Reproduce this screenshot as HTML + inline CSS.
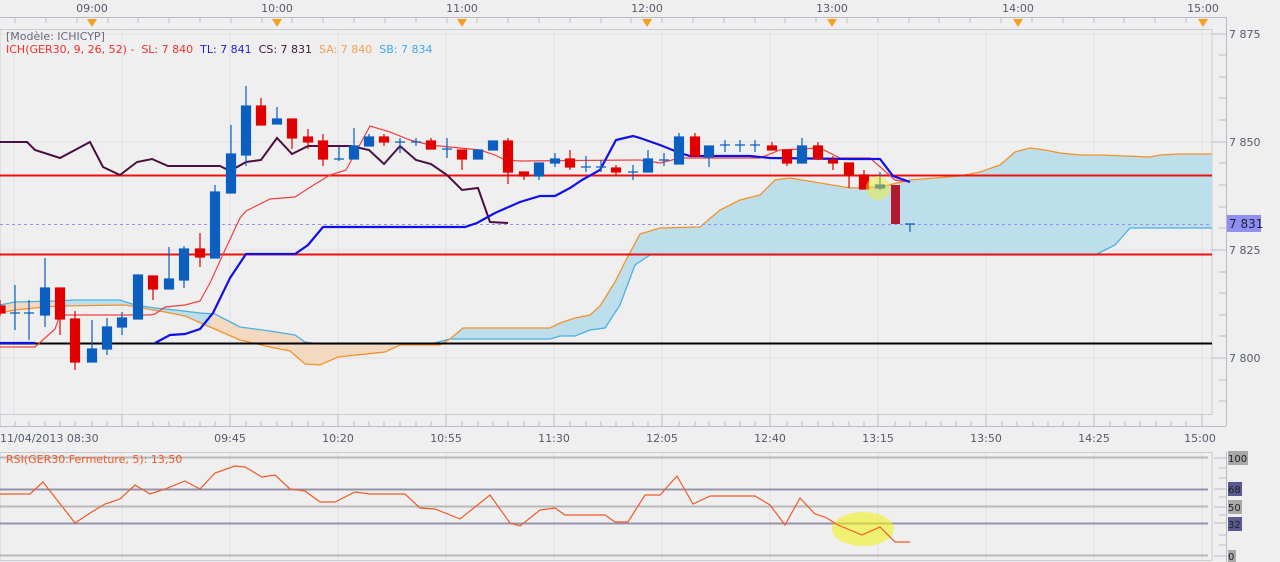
<!DOCTYPE html>
<html><head><meta charset="utf-8"><style>
html,body{margin:0;padding:0;background:#f0f0f0;}
svg{display:block;font-family:"DejaVu Sans","Liberation Sans",sans-serif;}
</style></head><body>
<svg width="1280" height="562" viewBox="0 0 1280 562" xmlns="http://www.w3.org/2000/svg">
<rect width="1280" height="562" fill="#efefef"/>
<g font-size="11" fill="#555a70" text-anchor="middle">
<text x="92" y="12">09:00</text><text x="277" y="12">10:00</text><text x="462" y="12">11:00</text>
<text x="647" y="12">12:00</text><text x="832" y="12">13:00</text><text x="1018" y="12">14:00</text><text x="1203" y="12">15:00</text>
</g>
<path d="M0 17.5H1226.5V30" fill="none" stroke="#b8bcc8"/>
<g stroke="#b8bcc8">
<path d="M15 18v5M46 18v5M77 18v5M108 18v5M138 18v5M169 18v5M200 18v5M231 18v5M262 18v5M292 18v5M323 18v5M354 18v5M385 18v5M416 18v5M447 18v5M477 18v5M508 18v5M539 18v5M570 18v5M601 18v5M631 18v5M662 18v5M693 18v5M724 18v5M755 18v5M785 18v5M816 18v5M847 18v5M878 18v5M909 18v5M939 18v5M970 18v5M1001 18v5M1032 18v5M1063 18v5M1094 18v5M1124 18v5M1155 18v5M1186 18v5"/>
</g>
<g fill="#f5a020">
<path d="M87 19h10l-5 8z"/><path d="M272 19h10l-5 8z"/><path d="M457 19h10l-5 8z"/><path d="M642 19h10l-5 8z"/><path d="M827 19h10l-5 8z"/><path d="M1013 19h10l-5 8z"/><path d="M1198 19h10l-5 8z"/>
</g>
<rect x="0" y="29.5" width="1212" height="385" fill="#efefef" stroke="#c8ccd6"/>
<path d="M1226.5 30V426" stroke="#b8bcc8"/>
<g stroke="#e0e0e4">
<path d="M14 30V414M122 30V414M230 30V414M338 30V414M446 30V414M554 30V414M662 30V414M770 30V414M878 30V414M986 30V414M1094 30V414M1202 30V414"/>
<path d="M0 34H1212M0 142H1212M0 250H1212M0 358H1212"/>
</g>
<g stroke="#b8bcc8"><path d="M1212 34h14M1212 142h14M1212 250h14M1212 358h14M1219 55h7M1219 77h7M1219 98h7M1219 120h7M1219 163h7M1219 185h7M1219 207h7M1219 228h7M1219 272h7M1219 293h7M1219 315h7M1219 336h7M1219 380h7M1219 401h7"/></g>
<g font-size="11" fill="#555a70">
<text x="1229" y="38">7 875</text><text x="1229" y="146">7 850</text><text x="1229" y="254">7 825</text><text x="1229" y="362">7 800</text>
</g>
<defs>
<clipPath id="org"><rect x="0" y="0" width="60" height="420"/><rect x="210" y="0" width="232" height="420"/></clipPath>
</defs>
<path d="M0 313L15 310L45 307L60 306L125 305L165 312L185 316L210 327L240 340L270 347L290 351L305 364L320 365L338 357L385 352L400 345L440 345L450 339L463 328L550 328L560 323L575 318L590 315L600 306L615 282L625 262L640 234L660 228L700 227L720 210L740 200L760 195L775 180L790 178L850 188L880 187L910 180L960 176L980 172L1000 165L1015 152L1030 148L1045 150L1060 153L1080 155L1100 155L1150 157L1160 155L1180 154L1212 154L1212 228L1130 228L1115 245L1095 255L650 255L635 265L620 305L605 328L590 330L575 336L560 336L550 339L450 339L430 344L320 344L305 342L295 335L270 331L240 327L215 314L200 313L175 310L155 308L135 305L120 300L75 300L55 301L15 302L0 305Z" fill="#bddfec"/>
<path clip-path="url(#org)" d="M0 313L15 310L45 307L60 306L125 305L165 312L185 316L210 327L240 340L270 347L290 351L305 364L320 365L338 357L385 352L400 345L440 345L450 339L463 328L550 328L450 339L430 344L320 344L305 342L295 335L270 331L240 327L215 314L200 313L175 310L155 308L135 305L120 300L75 300L55 301L15 302L0 305Z" fill="#f3d9c0"/>
<polyline fill="none" stroke="#4ab0e0" stroke-width="1.3" points="0,305 15,302 55,301 75,300 120,300 135,305 155,308 175,310 200,313 215,314 240,327 270,331 295,335 305,342 320,344 430,344 450,339 550,339 560,336 575,336 590,330 605,328 620,305 635,265 650,255 1095,255 1115,245 1130,228 1212,228"/>
<polyline fill="none" stroke="#f5912a" stroke-width="1.3" points="0,313 15,310 45,307 60,306 125,305 165,312 185,316 210,327 240,340 270,347 290,351 305,364 320,365 338,357 385,352 400,345 440,345 450,339 463,328 550,328 560,323 575,318 590,315 600,306 615,282 625,262 640,234 660,228 700,227 720,210 740,200 760,195 775,180 790,178 850,188 880,187 910,180 960,176 980,172 1000,165 1015,152 1030,148 1045,150 1060,153 1080,155 1100,155 1150,157 1160,155 1180,154 1212,154"/>
<path d="M0 175.5H1212" stroke="#ee1010" stroke-width="2"/>
<path d="M0 254.5H1212" stroke="#ee1010" stroke-width="2"/>
<path d="M0 343.5H1212" stroke="#000" stroke-width="2"/>
<path d="M0 224.5H1212" stroke="#9090ff" stroke-dasharray="3,3"/>
<rect x="1227" y="215" width="34" height="17" fill="#8f8ff0"/>
<text x="1229" y="228" font-size="12" fill="#202040">7 831</text>
<polyline fill="none" stroke="#4a1040" stroke-width="2" points="0,142 27,142 35,150 60,158 90,142 103,167 120,175 137,162 152,159 168,166 220,166 230,171 246,162 261,160 277,138 292,154 308,146 351,146 369,150 384,164 400,146 416,160 431,164 447,175 462,190 478,188 490,222 508,223"/>
<polyline fill="none" stroke="#f04040" stroke-width="1.2" points="0,347 35,347 55,329 60,315 150,315 155,314 165,307 185,305 200,301 210,283 225,250 240,218 246,211 270,199 295,197 312,186 330,175 346,170 370,126 390,132 410,140 430,145 480,150 495,155 505,160 520,161 640,160 660,163 680,158 760,158 780,150 820,148 840,158 870,158 895,180 910,182"/>
<polyline fill="none" stroke="#1010e8" stroke-width="2.2" points="0,343 35,343"/>
<polyline fill="none" stroke="#1010e8" stroke-width="2.2" points="155,343 170,335 185,334 200,329 213,313 230,278 246,254 295,254 308,245 323,227 465,227 477,223 495,213 520,202 540,196 555,196 570,188 582,180 600,170 616,140 633,136 640,138 660,145 680,153 690,156 750,156 770,158 850,159 880,159 893,176 910,182"/>
<g stroke-width="1.2">
<g stroke="#e00000" fill="#e00000">
<path d="M0 300v16"/><rect x="-4" y="306" width="9" height="7"/>
<path d="M60 288v47M75 311v59M153 276v24M200 233v34M261 98v27M292 119v30M308 129v20M323 134v32M384 134v12M431 138v11M462 150v20M508 138v46M524 172v8M570 150v20M616 165v10M695 133v23M772 142v8M787 150v16M818 142v18M833 156v14M849 163v25M864 170v19"/>
<rect x="55.5" y="288" width="9" height="31"/><rect x="70.5" y="319" width="9" height="43"/><rect x="148.5" y="276" width="9" height="13"/><rect x="195.5" y="249" width="9" height="8"/><rect x="256.5" y="106" width="9" height="19"/><rect x="287.5" y="119" width="9" height="19"/><rect x="303.5" y="137" width="9" height="5"/><rect x="318.5" y="141" width="9" height="18"/><rect x="379.5" y="137" width="9" height="5"/><rect x="426.5" y="141" width="9" height="8"/><rect x="457.5" y="150" width="9" height="9"/><rect x="503.5" y="141" width="9" height="31"/><rect x="519.5" y="172" width="9" height="4"/><rect x="565.5" y="159" width="9" height="8"/><rect x="611.5" y="168" width="9" height="4"/><rect x="690.5" y="137" width="9" height="19"/><rect x="767.5" y="146" width="9" height="4"/><rect x="782.5" y="150" width="9" height="13"/><rect x="813.5" y="146" width="9" height="13"/><rect x="828.5" y="160" width="9" height="3"/><rect x="844.5" y="163" width="9" height="12"/><rect x="859.5" y="175" width="9" height="14"/>
</g>
<g stroke="#0a5fc0" fill="#0a5fc0">
<path d="M15 285v45M10 313h10M29 300v40M24 313h10M45 258v69M92 320v42M107 318v37M122 312v23M138 275v44M169 247v41M184 246v42M215 185v73M231 125v42M246 86v80M277 107v17M339 147v14M334 159h10M354 128v31M369 134v12M400 138v15M395 142h10M416 138v8M411 142h10M447 138v20M442 149h10M478 150v9M493 141v9M539 163v17M555 153v14M586 156v16M581 167h10M601 160v12M596 167h10M633 165v15M628 172h10M648 150v22M664 153v13M659 160h10M679 133v31M709 146v21M725 140v12M720 145h10M740 140v12M735 145h10M755 140v12M750 145h10M802 138v25M880 172v18M910 224v8M905 224h10"/>
<rect x="40.5" y="288" width="9" height="27"/><rect x="87.5" y="349" width="9" height="13"/><rect x="102.5" y="327" width="9" height="22"/><rect x="117.5" y="318" width="9" height="9"/><rect x="133.5" y="275" width="9" height="44"/><rect x="164.5" y="279" width="9" height="10"/><rect x="179.5" y="249" width="9" height="31"/><rect x="210.5" y="192" width="9" height="66"/><rect x="226.5" y="154" width="9" height="39"/><rect x="241.5" y="106" width="9" height="49"/><rect x="272.5" y="119" width="9" height="5"/><rect x="349.5" y="146" width="9" height="13"/><rect x="364.5" y="137" width="9" height="9"/><rect x="473.5" y="150" width="9" height="9"/><rect x="488.5" y="141" width="9" height="9"/><rect x="534.5" y="163" width="9" height="13"/><rect x="550.5" y="159" width="9" height="4"/><rect x="643.5" y="159" width="9" height="13"/><rect x="674.5" y="137" width="9" height="27"/><rect x="704.5" y="146" width="9" height="11"/><rect x="797.5" y="146" width="9" height="17"/><rect x="875.5" y="185" width="9" height="3"/>
</g>
<rect x="891" y="185" width="9" height="39" fill="#b01c2e"/>
</g>
<ellipse cx="878" cy="188" rx="12" ry="12" fill="#f0f020" fill-opacity="0.45"/>
<text x="6" y="40" font-size="11" fill="#6a6a80">[Modèle: ICHICYP]</text>
<text x="6" y="53" font-size="11" xml:space="preserve"><tspan fill="#f03030">ICH(GER30, 9, 26, 52) -  SL: 7 840 </tspan><tspan fill="#2020e0"> TL: 7 841 </tspan><tspan fill="#4a1040"> CS: 7 831 </tspan><tspan fill="#f5a050"> SA: 7 840 </tspan><tspan fill="#40a8e8"> SB: 7 834</tspan></text>
<path d="M0 414.5V426.5H1226" fill="none" stroke="#b8bcc8"/>
<g stroke="#b8bcc8"><path d="M122 414v12M230 414v12M338 414v12M446 414v12M554 414v12M662 414v12M770 414v12M878 414v12M986 414v12M1094 414v12M1202 414v12M15 421v5M29 421v5M45 421v5M60 421v5M75 421v5M92 421v5M107 421v5M138 421v5M153 421v5M169 421v5M184 421v5M200 421v5M215 421v5M246 421v5M261 421v5M277 421v5M292 421v5M308 421v5M323 421v5M354 421v5M369 421v5M384 421v5M400 421v5M416 421v5M431 421v5M462 421v5M478 421v5M493 421v5M508 421v5M524 421v5M539 421v5M570 421v5M586 421v5M601 421v5M616 421v5M633 421v5M648 421v5M679 421v5M695 421v5M709 421v5M725 421v5M740 421v5M755 421v5M787 421v5M802 421v5M818 421v5M833 421v5M849 421v5M864 421v5M895 421v5M910 421v5M926 421v5M941 421v5M956 421v5M971 421v5M1002 421v5M1017 421v5M1033 421v5M1048 421v5M1063 421v5M1079 421v5M1110 421v5M1125 421v5M1140 421v5M1156 421v5M1171 421v5M1186 421v5"/></g>
<g font-size="11" fill="#555a70" text-anchor="middle">
<text x="0" y="442" text-anchor="start">11/04/2013 08:30</text><text x="230" y="442">09:45</text><text x="338" y="442">10:20</text><text x="446" y="442">10:55</text><text x="554" y="442">11:30</text><text x="662" y="442">12:05</text><text x="770" y="442">12:40</text><text x="878" y="442">13:15</text><text x="986" y="442">13:50</text><text x="1094" y="442">14:25</text><text x="1200" y="442">15:00</text>
</g>
<rect x="0" y="452.5" width="1212" height="108" fill="#efefef" stroke="#c8ccd6"/>
<path d="M1226.5 452V562" stroke="#b8bcc8"/>
<g stroke="#e0e0e4"><path d="M122 453V560M230 453V560M338 453V560M446 453V560M554 453V560M662 453V560M770 453V560M878 453V560M986 453V560M1094 453V560M1202 453V560"/></g>
<path d="M0 457.5H1208M0 506.5H1208M0 555.5H1208" stroke="#b8b8b8" stroke-width="2"/>
<path d="M0 489.5H1208M0 523.5H1208" stroke="#9494ac" stroke-width="2"/>
<g stroke="#b8bcc8"><path d="M1214 458h12M1219 468h7M1219 478h7M1214 489h12M1219 497h7M1214 507h12M1219 515h7M1214 523h12M1219 535h7M1219 545h7M1214 556h12"/></g>
<rect x="1228" y="451" width="20" height="14" fill="#a8a8a8"/><text x="1228" y="462" font-size="10" fill="#222">100</text>
<rect x="1228" y="482" width="14" height="14" fill="#5a5a90"/><text x="1228" y="493" font-size="10" fill="#222">68</text>
<rect x="1228" y="500" width="14" height="14" fill="#a8a8a8"/><text x="1228" y="511" font-size="10" fill="#222">50</text>
<rect x="1228" y="517" width="14" height="14" fill="#5a5a90"/><text x="1228" y="528" font-size="10" fill="#222">32</text>
<rect x="1228" y="550" width="8" height="12" fill="#a8a8a8"/><text x="1228" y="560" font-size="10" fill="#222">0</text>
<text x="6" y="463" font-size="11" fill="#f05a28">RSI(GER30.Fermeture, 5): 13,50</text>
<ellipse cx="863" cy="529" rx="31" ry="17" fill="#f0f020" fill-opacity="0.6"/>
<polyline fill="none" stroke="#f05a28" stroke-width="1.2" points="0,494 30,494 43,482 75,523 90,513 105,504 120,499 135,485 150,494 165,489 185,481 200,489 215,473 235,466 245,467 262,477 275,475 290,489 305,491 320,502 335,502 355,492 370,494 405,494 420,508 435,509 460,519 490,495 510,523 520,526 540,510 555,508 565,515 605,515 615,522 628,522 645,495 660,495 677,476 693,504 710,496 755,496 770,505 785,525 800,498 815,514 825,517 838,525 862,535 880,527 895,542 910,542"/>
</svg>
</body></html>
